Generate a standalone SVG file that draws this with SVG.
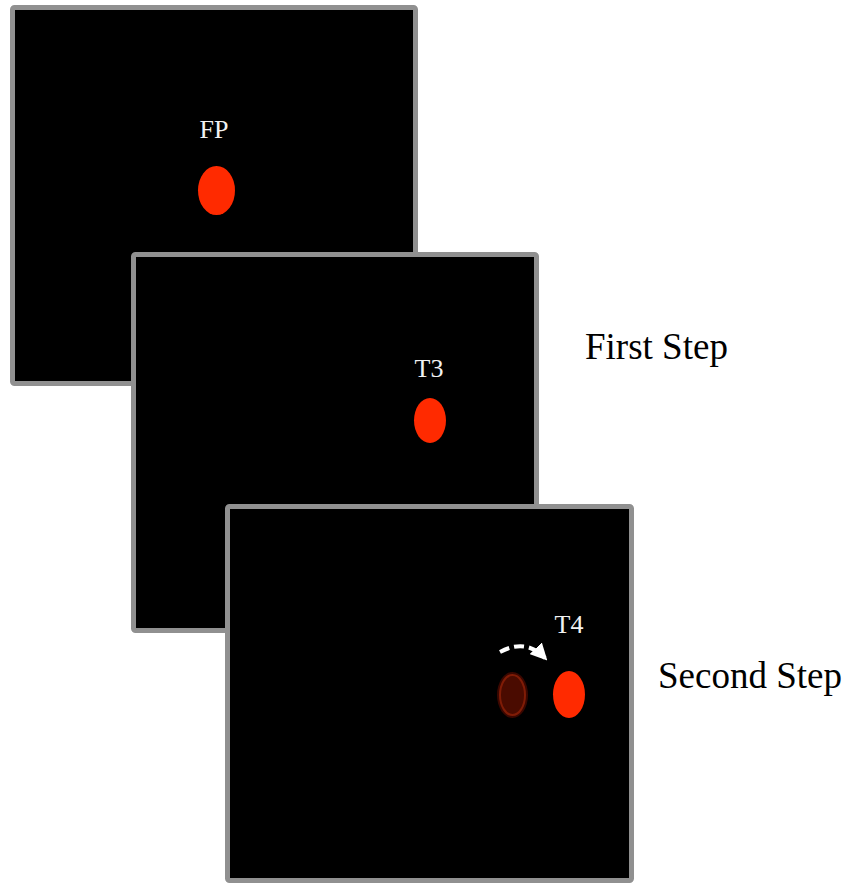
<svg xmlns="http://www.w3.org/2000/svg" width="848" height="884" viewBox="0 0 848 884">
  <style>
    .screen { fill: #000000; stroke: #909090; stroke-width: 5; }
    .dot { fill: #ff2a00; }
    .label { font-family: "Liberation Serif", "Times New Roman", serif; font-size: 26px; fill: #f2f2f2; }
    .step { font-family: "Liberation Serif", "Times New Roman", serif; font-size: 37px; fill: #000000; }
    .move { fill: none; stroke: #ffffff; stroke-width: 4; stroke-dasharray: 10 5; }
  </style>
  <defs>
    <marker id="head" viewBox="0 0 10 10" refX="8" refY="5" markerWidth="4.2" markerHeight="4.2" orient="auto" markerUnits="strokeWidth">
      <path d="M0,0 L10,5 L0,10 Z" fill="#ffffff"/>
    </marker>
  </defs>
  <rect width="848" height="884" fill="#ffffff"/>

  <!-- fixation screen -->
  <g id="screen-fp">
    <rect class="screen" x="12.5" y="7.5" width="403" height="376" rx="2"/>
    <text class="label" x="214" y="138" text-anchor="middle">FP</text>
    <ellipse class="dot" cx="216.5" cy="190.5" rx="18.5" ry="24.5"/>
  </g>

  <!-- first step screen -->
  <g id="screen-t3">
    <rect class="screen" x="133.5" y="254.5" width="403" height="376" rx="2"/>
    <text class="label" x="429" y="377" text-anchor="middle">T3</text>
    <ellipse class="dot" cx="430" cy="420.5" rx="16" ry="22.5"/>
  </g>

  <!-- second step screen -->
  <g id="screen-t4">
    <rect class="screen" x="227.5" y="506.5" width="404" height="374" rx="2"/>
    <text class="label" x="569" y="633" text-anchor="middle">T4</text>
    <g id="previous-target">
      <ellipse cx="512.5" cy="695" rx="15.5" ry="23" fill="#3a0700"/>
      <ellipse cx="512.5" cy="695" rx="12.5" ry="20" fill="#4a0b00" stroke="#7f1c06" stroke-width="2"/>
    </g>
    <ellipse class="dot" cx="569" cy="694.5" rx="16" ry="23.5"/>
  </g>

  <g id="connectors">
    <path class="move" d="M500,652 Q526,638 545,658" marker-end="url(#head)"/>
  </g>

  <g id="step-labels">
    <text class="step" x="585" y="359">First Step</text>
    <text class="step" x="658" y="688">Second Step</text>
  </g>
</svg>
